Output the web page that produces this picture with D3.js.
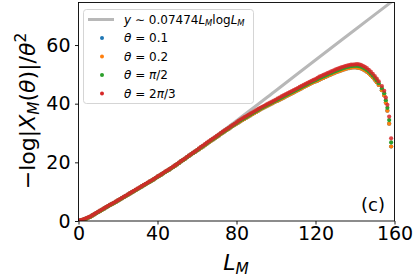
<!DOCTYPE html>
<html>
<head>
<meta charset="utf-8">
<script src="https://cdn.jsdelivr.net/npm/d3@7"></script>
<style>
  body { margin: 0; background: #fff; }
  text { font-family: 'DejaVu Sans', sans-serif; }
</style>
</head>
<body>
<svg width="415" height="277"></svg>
<script>
// L_M positions of the scatter points (unit grid, then the sparse tail)
const lm = d3.range(0, 153, 1).concat([153.6, 154.8, 155.6, 156.4, 157.3, 158.3]);

// theta = pi/2 (green)
const valPi2 = [
  0,0.2,0.4,0.65,0.9,1.2,1.5,1.9,2.3,2.7,
  3.1,3.5,3.9,4.3,4.7,5.1,5.5,5.85,6.2,6.6,
  7.0,7.4,7.8,8.2,8.6,9.0,9.4,9.8,10.2,10.6,
  11.0,11.4,11.8,12.2,12.6,13.0,13.4,13.8,14.2,14.65,
  15.1,15.5,15.9,16.35,16.8,17.2,17.6,18.05,18.5,18.95,
  19.4,19.9,20.4,20.85,21.3,21.8,22.3,22.75,23.2,23.65,
  24.1,24.6,25.1,25.55,26.0,26.5,27.0,27.45,27.9,28.35,
  28.8,29.3,29.8,30.25,30.7,31.15,31.6,32.05,32.5,32.95,
  33.4,33.85,34.3,34.7,35.1,35.5,35.9,36.3,36.7,37.1,
  37.5,37.9,38.3,38.65,39.0,39.35,39.7,40.05,40.4,40.75,
  41.1,41.45,41.8,42.15,42.5,42.85,43.2,43.55,43.9,44.25,
  44.6,44.95,45.3,45.65,46.0,46.35,46.7,47.05,47.4,47.7,
  48.0,48.35,48.7,49.0,49.3,49.6,49.9,50.2,50.5,50.8,
  51.1,51.35,51.6,51.85,52.1,52.3,52.5,52.65,52.8,52.85,
  52.9,52.9,52.8,52.6,52.3,51.95,51.5,50.95,50.3,49.6,
  48.8,47.95,47.0,
  45.3,43.6,41.2,38.6,34.4,26.8];

// theta = 2pi/3 (red)
const val2Pi3 = [
  0.1,0.3,0.5,0.75,1.0,1.3,1.6,2.0,2.4,2.8,
  3.2,3.6,4.0,4.4,4.8,5.2,5.6,5.95,6.3,6.7,
  7.1,7.5,7.9,8.3,8.7,9.1,9.5,9.9,10.3,10.7,
  11.1,11.5,11.9,12.3,12.7,13.1,13.5,13.9,14.3,14.75,
  15.2,15.6,16.0,16.45,16.9,17.3,17.7,18.15,18.6,19.05,
  19.5,20.0,20.5,20.95,21.4,21.9,22.4,22.85,23.3,23.75,
  24.2,24.8,25.3,25.75,26.2,26.7,27.2,27.65,28.1,28.55,
  29.0,29.5,30.0,30.45,30.9,31.35,31.8,32.25,32.7,33.15,
  33.6,34.15,34.6,35.0,35.4,35.8,36.2,36.6,37.0,37.4,
  37.8,38.2,38.6,38.95,39.3,39.65,40.0,40.35,40.7,41.05,
  41.4,41.85,42.2,42.55,42.9,43.25,43.6,43.95,44.3,44.65,
  45.0,45.35,45.7,46.05,46.4,46.75,47.1,47.45,47.8,48.1,
  48.4,48.85,49.2,49.5,49.8,50.1,50.4,50.7,51.0,51.3,
  51.6,51.85,52.1,52.35,52.6,52.8,53.0,53.15,53.3,53.35,
  53.4,53.5,53.4,53.2,52.9,52.55,52.1,51.55,50.9,50.2,
  49.4,48.55,47.6,
  46.0,44.4,42.1,39.6,35.6,28.2];

// theta = 0.2 (orange)
const val02 = [
  0,0.1,0.3,0.55,0.8,1.1,1.4,1.8,2.2,2.6,
  3.0,3.4,3.8,4.2,4.6,5.0,5.4,5.75,6.1,6.5,
  6.9,7.3,7.7,8.1,8.5,8.9,9.3,9.7,10.1,10.5,
  10.9,11.3,11.7,12.1,12.5,12.9,13.3,13.7,14.1,14.55,
  15.0,15.4,15.8,16.25,16.7,17.1,17.5,17.95,18.4,18.85,
  19.3,19.8,20.3,20.75,21.2,21.7,22.2,22.65,23.1,23.55,
  24.0,24.4,24.9,25.35,25.8,26.3,26.8,27.25,27.7,28.15,
  28.6,29.1,29.6,30.05,30.5,30.95,31.4,31.85,32.3,32.75,
  33.2,33.55,34.0,34.4,34.8,35.2,35.6,36.0,36.4,36.8,
  37.2,37.6,38.0,38.35,38.7,39.05,39.4,39.75,40.1,40.45,
  40.8,41.05,41.4,41.75,42.1,42.45,42.8,43.15,43.5,43.85,
  44.2,44.55,44.9,45.25,45.6,45.95,46.3,46.65,47.0,47.3,
  47.6,47.85,48.2,48.5,48.8,49.1,49.4,49.7,50.0,50.3,
  50.6,50.85,51.1,51.35,51.6,51.8,52.0,52.15,52.3,52.35,
  52.4,52.3,52.2,52.0,51.7,51.35,50.9,50.35,49.7,49.0,
  48.2,47.35,46.4,
  44.6,42.8,40.3,37.6,33.2,25.4];

// theta = 0.1 (blue) lies under the orange points
const val01 = val02.slice();

// guide line y ~ 0.07474 L log L
const fitL = [10,20,40,60,80,100,120,140,160];
const fitY = [3,6.9,15,24.3,34.2,44.5,54.9,65.2,75.5];

const xTicks = [0,40,80,120,160];
const yTicks = [0,20,40,60];

const series = [
  { pre: '0.1', pi: false, post: '', vals: val01, color: '#1f77b4', op: 1 },
  { pre: '0.2', pi: false, post: '', vals: val02, color: '#ff7f0e', op: 1 },
  { pre: '', pi: true, post: '/2', vals: valPi2, color: '#2ca02c', op: 1 },
  { pre: '2', pi: true, post: '/3', vals: val2Pi3, color: '#d62728', op: 0.85 }
];

const svg = d3.select('svg');

const x = d3.scaleLinear().domain([0, 160]).range([78.5, 394.5]);
const y = d3.scaleLinear().domain([0, 74.5]).range([221, 2.5]);

// clip to the axes box
svg.append('clipPath').attr('id', 'clip')
  .append('rect')
    .attr('x', x(0)).attr('y', y(74.5))
    .attr('width', x(160) - x(0)).attr('height', y(0) - y(74.5));

const plot = svg.append('g').attr('clip-path', 'url(#clip)');

plot.append('path')
  .datum(fitL.map((d, i) => [d, fitY[i]]))
  .attr('fill', 'none')
  .attr('stroke', '#b8b8b8')
  .attr('stroke-width', 3)
  .attr('d', d3.line().curve(d3.curveMonotoneX).x(d => x(d[0])).y(d => y(d[1])));

series.forEach(s => {
  plot.append('g').selectAll('circle')
    .data(lm.map((d, i) => [d, s.vals[i]]))
    .enter().append('circle')
      .attr('cx', d => x(d[0]))
      .attr('cy', d => y(d[1]))
      .attr('r', 2.1)
      .attr('fill', s.color)
      .attr('fill-opacity', s.op);
});

// axes
const xAxis = svg.append('g')
  .attr('transform', `translate(0,${y(0)})`)
  .call(d3.axisBottom(x).tickValues(xTicks).tickSize(3.5).tickPadding(2.2).tickSizeOuter(0));
const yAxis = svg.append('g')
  .attr('transform', `translate(${x(0)},0)`)
  .call(d3.axisLeft(y).tickValues(yTicks).tickSize(3.5).tickPadding(4.5).tickSizeOuter(0));

[xAxis, yAxis].forEach(a => {
  a.select('.domain').remove();
  a.selectAll('line').attr('stroke', '#000').attr('stroke-width', 0.9);
  a.selectAll('text').attr('font-size', 19).attr('fill', '#000')
    .attr('font-family', 'DejaVu Sans');
});

svg.append('rect')
  .attr('x', x(0)).attr('y', y(74.5))
  .attr('width', x(160) - x(0)).attr('height', y(0) - y(74.5))
  .attr('fill', 'none').attr('stroke', '#000').attr('stroke-width', 0.9);

// mathtext helper
function math(sel, parts, size) {
  parts.forEach(p => {
    const t = sel.append('tspan').text(p.t);
    if (p.it) t.attr('font-style', 'italic');
    if (p.sub) t.attr('font-size', size * 0.7).attr('dy', size * 0.2);
    if (p.sup) t.attr('font-size', size * 0.7).attr('dy', -size * 0.4);
    if (p.back) t.attr('dy', p.back * size);
  });
}

// y label
const yl = svg.append('text')
  .attr('transform', 'translate(35,111) rotate(-90)')
  .attr('text-anchor', 'middle')
  .attr('font-size', 22);
math(yl, [
  { t: '−log|' }, { t: 'X', it: true }, { t: 'M', it: true, sub: true },
  { t: '(', back: -0.2 }, { t: 'θ', it: true }, { t: ')|/' }, { t: 'θ', it: true },
  { t: '2', sup: true }
], 22);

// x label
const xl = svg.append('text')
  .attr('x', 236).attr('y', 269.5)
  .attr('text-anchor', 'middle')
  .attr('font-size', 22);
math(xl, [{ t: 'L', it: true }, { t: 'M', it: true, sub: true }], 22);

// panel tag
svg.append('text')
  .attr('x', 385).attr('y', 211)
  .attr('text-anchor', 'end')
  .attr('font-size', 18)
  .text('(c)');

// legend
const lg = svg.append('g');
lg.append('rect')
  .attr('x', 83.5).attr('y', 9.5).attr('width', 170).attr('height', 94)
  .attr('rx', 3)
  .attr('fill', '#fff').attr('fill-opacity', 0.8)
  .attr('stroke', '#d5d5d5').attr('stroke-width', 1);

const rowY = [19.5, 38, 56.5, 75, 93.5];
lg.append('line')
  .attr('x1', 88).attr('x2', 114).attr('y1', rowY[0]).attr('y2', rowY[0])
  .attr('stroke', '#b8b8b8').attr('stroke-width', 3);
const t0 = lg.append('text').attr('x', 124).attr('y', rowY[0] + 4.3).attr('font-size', 12);
math(t0, [
  { t: 'y', it: true }, { t: ' ∼ 0.07474' }, { t: 'L', it: true }, { t: 'M', it: true, sub: true },
  { t: 'log', back: -0.2 }, { t: 'L', it: true }, { t: 'M', it: true, sub: true }
], 12);

series.forEach((s, i) => {
  const ry = rowY[i + 1];
  lg.append('circle').attr('cx', 102).attr('cy', ry).attr('r', 2).attr('fill', s.color);
  const t = lg.append('text').attr('x', 124).attr('y', ry + 4.3).attr('font-size', 12);
  const parts = [{ t: 'θ', it: true }, { t: ' = ' + s.pre }];
  if (s.pi) parts.push({ t: 'π', it: true }, { t: s.post });
  math(t, parts, 12);
});
</script>
</body>
</html>
